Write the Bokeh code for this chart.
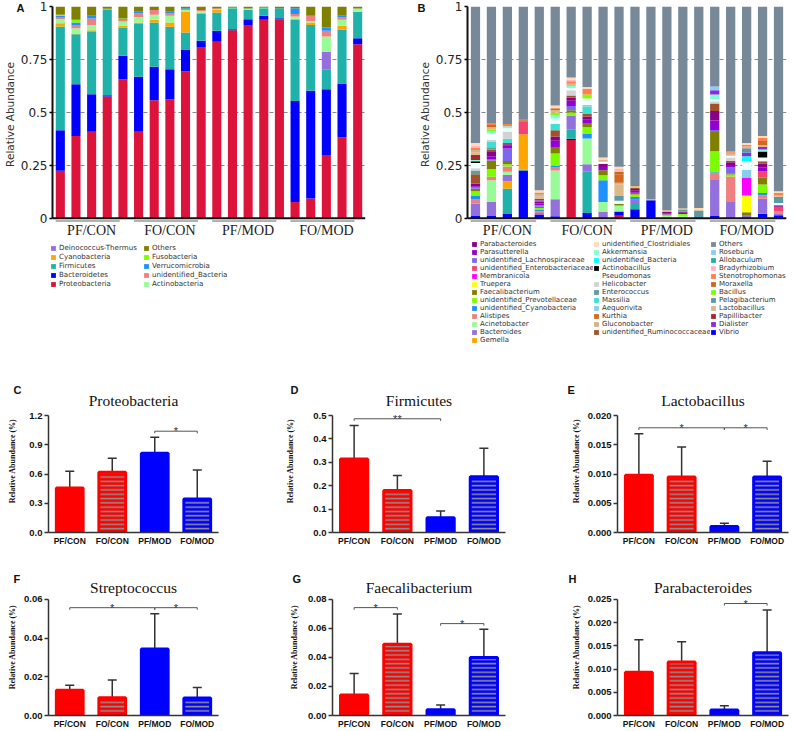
from bokeh.plotting import figure
from bokeh.models import (FactorRange, ColumnDataSource, Legend, LegendItem, Label, Span,
                          FixedTicker, NumeralTickFormatter, Whisker, TeeHead, Range1d, Spacer)
from bokeh.layouts import column, row
from bokeh.core.properties import value
from bokeh.embed import file_html
from bokeh.resources import INLINE

GROUPS = ["PF/CON", "FO/CON", "PF/MOD", "FO/MOD"]
REPLICATES = ["1", "2", "3", "4", "5"]
SAMPLES = [(g, r) for g in GROUPS for r in REPLICATES]

# ---------------- Panel A: phylum level (20 samples) ----------------
proteobacteria = [.224, .389, .408, .575, .655, .409, .557, .561, .693, .809,
                  .833, .888, .913, .937, .94, .077, .093, .299, .381, .822]
bacteroidetes = [.192, .244, .178, .006, .112, .259, .158, .143, .101, .029,
                 .052, .005, .027, .019, .005, .477, .509, .31, .255, .028]
firmicutes = [.49, .236, .294, .406, .134, .249, .209, .2, .083, .129,
              .087, .099, .044, .036, .047, .383, .311, .095, .254, .125]
cyanobacteria = [.015, .004, .008, 0, .008, .007, .013, .02, .099, .003,
                 .011, 0, 0, 0, 0, .005, .011, 0, .019, 0]
deinococcus = [0, 0, 0, 0, 0, 0, 0, 0, 0, 0, 0, 0, 0, 0, 0, 0, 0, .082, 0, 0]
actinobacteria = [.02, .024, .024, .002, .02, .027, .024, .032, .008, .009,
                  .005, .002, .006, .002, 0, .011, .008, .072, .028, .015]
unid_bacteria_p = [.01, .016, .031, 0, .008, .016, .022, .011, .004, .004,
                   .002, 0, 0, 0, 0, .011, .024, .027, .011, 0]
verrucomicrobia = [.005, .011, .013, 0, .004, .008, 0, .008, .004, 0,
                   0, 0, 0, 0, 0, .028, 0, .016, .008, 0]
fusobacteria = [.005, .013, 0, 0, .002, 0, 0, 0, 0, 0, 0, 0, 0, 0, 0, 0, 0, 0, 0, 0]
others_p = [.039, .063, .044, .011, .057, .025, .017, .025, .008, .017,
            .01, .006, .01, .006, .008, .008, .044, .099, .044, .01]

PHYLA = [  # bottom -> top
    ("Proteobacteria", proteobacteria, "#DC143C"),
    ("Bacteroidetes", bacteroidetes, "#0000FF"),
    ("Firmicutes", firmicutes, "#20B2AA"),
    ("Cyanobacteria", cyanobacteria, "#FFA500"),
    ("Deinococcus-Thermus", deinococcus, "#9370DB"),
    ("Actinobacteria", actinobacteria, "#98FB98"),
    ("unidentified_Bacteria", unid_bacteria_p, "#F08080"),
    ("Verrucomicrobia", verrucomicrobia, "#1E90FF"),
    ("Fusobacteria", fusobacteria, "#7CFC00"),
    ("Others", others_p, "#808000"),
]
LEGEND_A_COLS = [
    ["Deinococcus-Thermus", "Cyanobacteria", "Firmicutes", "Bacteroidetes", "Proteobacteria"],
    ["Others", "Fusobacteria", "Verrucomicrobia", "unidentified_Bacteria", "Actinobacteria"],
]

# ---------------- Panel B: genus level (20 samples) ----------------
low_red = [0, 0, 0, 0, 0, 0, .37, 0, 0, .012, 0, 0, 0, 0, .005, 0, 0, 0, .006, .006]
vibrio = [.011, .011, .02, .225, .015, .01, .005, .025, 0, .02, .042, .085, 0, 0, 0, .011, 0, 0, .015, .008]
allobaculum = [0, 0, .12, .005, 0, 0, .045, .195, 0, 0, .03, 0, 0, 0, 0, 0, 0, 0, 0, 0]
gemella = [0, 0, .035, .167, 0, 0, 0, 0, 0, 0, 0, 0, 0, 0, 0, 0, 0, 0, 0, 0]
bacteroides = [.058, .066, .03, 0, .01, .08, .065, .035, .03, 0, .015, 0, 0, 0, 0, .17, .077, .012, .072, .01]
acinetobacter = [0, .103, .015, 0, 0, .135, 0, .122, .047, .028, 0, 0, .01, .012, 0, 0, 0, 0, 0, 0]
alistipes = [.02, .016, .025, 0, .008, .015, 0, 0, 0, 0, 0, 0, 0, 0, 0, .03, .12, 0, .016, .008]
unid_cyanobacteria = [.016, 0, 0, 0, .008, .008, 0, .023, .103, 0, .013, 0, 0, 0, 0, .006, 0, 0, .01, 0]
unid_prevotellaceae = [.022, .037, .01, 0, .008, .058, .015, .03, .023, 0, .012, 0, .008, .008, 0, .1, .01, 0, .04, 0]
faecalibacterium = [.012, .04, .015, 0, .005, .03, .01, .02, .024, .008, .008, 0, 0, 0, 0, .09, .005, .016, .032, 0]
truepera = [0, 0, 0, 0, 0, 0, 0, 0, 0, 0, 0, 0, 0, 0, 0, 0, 0, .08, 0, 0]
membranicola = [0, 0, 0, 0, 0, 0, 0, 0, 0, 0, 0, 0, 0, 0, 0, 0, 0, .085, 0, 0]
unid_enterobacteriaceae = [0, 0, 0, .06, 0, 0, 0, 0, 0, 0, 0, 0, 0, 0, 0, 0, 0, 0, .03, .022]
unid_lachnospiraceae = [.006, .005, .06, 0, .008, 0, .02, 0, 0, 0, 0, 0, 0, 0, 0, .01, .028, 0, 0, 0]
parasutterella = [.006, .015, .012, 0, .008, .03, .025, .015, .015, 0, .01, 0, .006, .006, 0, .045, .012, 0, .02, 0]
parabacteroides = [.012, .02, .008, 0, .008, .02, .015, .015, .015, 0, .008, 0, .006, .005, 0, .045, .012, 0, .016, .008]
unid_ruminococcaceae = [.045, .012, .005, .005, .006, .03, .01, .012, 0, 0, .006, 0, 0, 0, 0, .035, .008, 0, .012, 0]
enterococcus = [.018, .01, 0, 0, 0, 0, 0, 0, 0, 0, 0, 0, 0, .008, 0, 0, 0, 0, 0, 0]
massilia = [0, .025, .02, 0, 0, .03, 0, .035, 0, 0, 0, 0, 0, 0, 0, 0, 0, 0, 0, 0]
helicobacter = [.01, .01, .035, 0, 0, 0, .025, 0, 0, 0, 0, 0, 0, 0, 0, .01, .015, 0, 0, 0]
aequorivita = [0, 0, 0, 0, 0, 0, 0, .008, 0, 0, 0, 0, 0, 0, 0, 0, 0, .035, 0, 0]
pseudomonas = [.025, .03, .015, 0, 0, .025, .01, .03, .01, .015, 0, 0, 0, 0, 0, .01, .008, .04, .018, .01]
unid_bacteria_g = [0, 0, 0, 0, 0, 0, 0, 0, 0, 0, 0, 0, 0, 0, 0, 0, 0, .025, 0, 0]
actinobacillus = [.008, 0, 0, 0, 0, 0, 0, 0, 0, 0, 0, 0, 0, 0, 0, 0, 0, 0, .028, 0]
akkermansia = [.006, .01, .01, 0, 0, .015, .01, 0, 0, 0, 0, 0, 0, 0, 0, .022, 0, 0, .01, 0]
papillibacter = [.025, 0, 0, 0, 0, 0, 0, 0, 0, 0, 0, 0, 0, 0, 0, 0, 0, 0, 0, 0]
dialister = [0, 0, 0, 0, .008, 0, 0, 0, 0, 0, 0, 0, 0, 0, 0, .02, 0, .018, .012, 0]
pelagibacterium = [0, 0, 0, 0, 0, 0, 0, 0, 0, .025, 0, 0, 0, 0, .03, 0, 0, .02, 0, .03]
bacillus = [0, .01, 0, 0, 0, .012, 0, .02, 0, 0, 0, 0, 0, 0, 0, 0, 0, 0, 0, 0]
lactobacillus = [.012, .01, 0, 0, .012, .012, .01, 0, .01, .05, .008, .005, .008, .008, .006, 0, .008, .008, .008, .006]
gluconobacter = [.01, 0, 0, 0, .01, 0, 0, 0, 0, .01, 0, 0, 0, 0, 0, 0, .006, 0, 0, 0]
kurthia = [0, .01, 0, .005, 0, .01, 0, 0, 0, .04, 0, 0, 0, 0, 0, 0, 0, 0, .02, 0]
moraxella = [0, 0, 0, 0, 0, 0, 0, 0, 0, .01, 0, 0, 0, 0, 0, 0, 0, 0, 0, 0]
stenotrophomonas = [.01, .01, .01, 0, .008, 0, .012, .025, 0, 0, 0, 0, 0, 0, 0, 0, .006, .008, .015, .012]
bradyrhizobium = [.01, 0, 0, 0, 0, 0, .008, 0, 0, .015, 0, 0, 0, 0, 0, 0, 0, 0, 0, 0]
roseburia = [0, 0, 0, 0, 0, 0, 0, 0, 0, 0, 0, 0, 0, 0, 0, .018, 0, 0, 0, 0]
unid_clostridiales = [.013, 0, 0, 0, .01, .012, .01, .01, .01, .01, 0, 0, 0, 0, .008, 0, 0, .008, .008, .008]
others_g = [.645, .55, .555, .533, .868, .468, .335, .38, .713, .757,
            .848, .91, .962, .953, .951, .378, .685, .645, .612, .872]

GENERA = [  # bottom -> top
    ("low_red", low_red, "#DC143C"),
    ("Vibrio", vibrio, "#0000FF"),
    ("Allobaculum", allobaculum, "#20B2AA"),
    ("Gemella", gemella, "#FFA500"),
    ("Bacteroides", bacteroides, "#9370DB"),
    ("Acinetobacter", acinetobacter, "#98FB98"),
    ("Alistipes", alistipes, "#F08080"),
    ("unidentified_Cyanobacteria", unid_cyanobacteria, "#1E90FF"),
    ("unidentified_Prevotellaceae", unid_prevotellaceae, "#7CFC00"),
    ("Faecalibacterium", faecalibacterium, "#808000"),
    ("Truepera", truepera, "#FFFF00"),
    ("Membranicola", membranicola, "#FF00FF"),
    ("unidentified_Enterobacteriaceae", unid_enterobacteriaceae, "#F5436F"),
    ("unidentified_Lachnospiraceae", unid_lachnospiraceae, "#7B68EE"),
    ("Parasutterella", parasutterella, "#9400D3"),
    ("Parabacteroides", parabacteroides, "#8B008B"),
    ("unidentified_Ruminococcaceae", unid_ruminococcaceae, "#A0522D"),
    ("Enterococcus", enterococcus, "#5F9EA0"),
    ("Massilia", massilia, "#40E0D0"),
    ("Helicobacter", helicobacter, "#D3D3D3"),
    ("Aequorivita", aequorivita, "#87CEEB"),
    ("Pseudomonas", pseudomonas, "#F0FFFF"),
    ("unidentified_Bacteria", unid_bacteria_g, "#00FFFF"),
    ("Actinobacillus", actinobacillus, "#000000"),
    ("Akkermansia", akkermansia, "#7FFFD4"),
    ("Papillibacter", papillibacter, "#A52A2A"),
    ("Dialister", dialister, "#8A2BE2"),
    ("Pelagibacterium", pelagibacterium, "#5A9AA0"),
    ("Bacillus", bacillus, "#7FFF00"),
    ("Lactobacillus", lactobacillus, "#DEB887"),
    ("Gluconobacter", gluconobacter, "#D2B48C"),
    ("Kurthia", kurthia, "#D2691E"),
    ("Moraxella", moraxella, "#CD661D"),
    ("Stenotrophomonas", stenotrophomonas, "#FF7F50"),
    ("Bradyrhizobium", bradyrhizobium, "#FFB6C1"),
    ("Roseburia", roseburia, "#87CEFA"),
    ("unidentified_Clostridiales", unid_clostridiales, "#FFDAB9"),
    ("Others", others_g, "#778899"),
]
LEGEND_B_COLS = [
    ["Parabacteroides", "Parasutterella", "unidentified_Lachnospiraceae",
     "unidentified_Enterobacteriaceae", "Membranicola", "Truepera", "Faecalibacterium",
     "unidentified_Prevotellaceae", "unidentified_Cyanobacteria", "Alistipes",
     "Acinetobacter", "Bacteroides", "Gemella"],
    ["unidentified_Clostridiales", "Akkermansia", "unidentified_Bacteria", "Actinobacillus",
     "Pseudomonas", "Helicobacter", "Enterococcus", "Massilia", "Aequorivita", "Kurthia",
     "Gluconobacter", "unidentified_Ruminococcaceae"],
    ["Others", "Roseburia", "Allobaculum", "Bradyrhizobium", "Stenotrophomonas",
     "Moraxella", "Bacillus", "Pelagibacterium", "Lactobacillus", "Papillibacter",
     "Dialister", "Vibrio"],
]
STACK_TICKS = [0, 0.25, 0.5, 0.75, 1]

# ---------------- Panels C-H: group means and error-bar tops ----------------
proteo_mean = [0.456, 0.617, 0.813, 0.343]
proteo_err = [0.627, 0.761, 0.977, 0.641]
firmi_mean = [0.314, 0.179, 0.063, 0.238]
firmi_err = [0.457, 0.244, 0.092, 0.36]
lacto_mean = [0.0098, 0.0095, 0.00103, 0.0095]
lacto_err = [0.0169, 0.0146, 0.0016, 0.0122]
strep_mean = [0.013, 0.0092, 0.0344, 0.0091]
strep_err = [0.0156, 0.0183, 0.0525, 0.0144]
faecal_mean = [0.0142, 0.049, 0.0039, 0.0399]
faecal_err = [0.0289, 0.0699, 0.0073, 0.0594]
parab_mean = [0.0093, 0.0115, 0.0012, 0.0135]
parab_err = [0.0163, 0.0159, 0.0021, 0.0227]

BAR_FILL = ["#FF0000", "#FF0000", "#0000FF", "#0000FF"]
BAR_HATCH = [" ", "horizontal_line", " ", "horizontal_line"]


def stack_panel(letter, series, width, height, bl, br, letter_off):
    p = figure(width=width, height=height,
               x_range=FactorRange(factors=SAMPLES, range_padding=0, group_padding=0),
               y_range=Range1d(-0.02, 1.0), output_backend="svg", toolbar_location=None,
               min_border_left=bl, min_border_right=br, min_border_top=6,
               min_border_bottom=height - 6 - 216)
    data = {"x": SAMPLES}
    for name, vals, _ in series:
        data[name] = vals
    src = ColumnDataSource(data)
    p.vbar_stack([s[0] for s in series], x="x", width=0.58, source=src,
                 color=[s[2] for s in series], line_color=None)
    p.outline_line_color = None
    p.xgrid.visible = False
    p.ygrid.ticker = FixedTicker(ticks=STACK_TICKS)
    p.ygrid.grid_line_color = "#8a8a8a"
    p.ygrid.grid_line_dash = "4 3"
    p.ygrid.grid_line_width = 1
    ya = p.yaxis[0]
    ya.ticker = FixedTicker(ticks=STACK_TICKS, minor_ticks=[])
    ya.formatter = NumeralTickFormatter(format="0.[00]")
    ya.bounds = (0, 1)
    ya.axis_line_width = 2
    ya.axis_line_color = "#111111"
    ya.major_tick_out = 3
    ya.major_tick_in = 0
    ya.major_tick_line_width = 1.5
    ya.major_label_standoff = 2
    ya.major_label_text_font = "DejaVu Sans"
    ya.major_label_text_font_size = "12px"
    ya.major_label_text_color = "#222222"
    ya.axis_label = "Relative Abundance"
    ya.axis_label_text_font = "DejaVu Sans"
    ya.axis_label_text_font_size = "10.5px"
    ya.axis_label_text_font_style = "normal"
    ya.axis_label_text_color = "#333333"
    ya.axis_label_standoff = 2
    xa = p.xaxis[0]
    xa.axis_line_alpha = 0
    xa.major_tick_out = 0
    xa.major_tick_in = 0
    xa.minor_tick_out = 0
    xa.major_label_text_font_size = "1px"
    xa.major_label_text_alpha = 0
    xa.major_label_standoff = 0
    xa.group_text_font = "Liberation Serif"
    xa.group_text_font_size = "14px"
    xa.group_text_font_style = "normal"
    xa.group_text_color = "#222222"
    xa.separator_line_alpha = 0
    p.add_layout(Span(location=0, dimension="width", line_color="#111111", line_width=2))
    p.segment(x0=[(g, REPLICATES[0], -0.3) for g in GROUPS], y0=[-0.013] * 4,
              x1=[(g, REPLICATES[-1], -0.2) for g in GROUPS], y1=[-0.013] * 4,
              line_color="#666666", line_width=1.2)
    p.title.text = letter
    p.title.align = "left"
    p.title.offset = letter_off
    p.title.standoff = -14
    p.title.text_font = "Liberation Sans"
    p.title.text_font_size = "11px"
    p.title.text_font_style = "bold"
    p.title.text_color = "#111111"
    return p


def legend_column(width, height, series, names, font_size, row_h):
    lf = figure(width=width, height=height, x_axis_type=None, y_axis_type=None,
                x_range=Range1d(0, 1), y_range=Range1d(0, 1), output_backend="svg",
                toolbar_location=None, min_border=0)
    lf.outline_line_color = None
    colors = {n: c for n, _, c in series}
    items = []
    for n in names:
        # swatch-only renderer, its single bar lies outside the visible ranges
        r = lf.vbar(x=[10], top=[10], width=0.5, fill_color=colors[n], line_color=None)
        items.append(LegendItem(label=n, renderers=[r]))
    lf.add_layout(Legend(items=items, location="top_left", orientation="vertical",
                         border_line_alpha=0, background_fill_alpha=0, padding=0,
                         margin=0, spacing=0, glyph_height=6, glyph_width=6,
                         label_height=int(row_h), label_standoff=3,
                         label_text_font="DejaVu Sans", label_text_font_size=font_size,
                         label_text_color="#333333"))
    return lf


LEG_H = 135
pA = stack_panel("A", PHYLA, 400, 240, 46, 35, -36)
pB = stack_panel("B", GENERA, 395, 240, 67, 9, -50)
legA = row(Spacer(width=50, height=LEG_H),
           column(Spacer(width=93, height=3),
                  legend_column(93, LEG_H - 3, PHYLA, LEGEND_A_COLS[0], "7.1px", 8)),
           column(Spacer(width=257, height=3),
                  legend_column(257, LEG_H - 3, PHYLA, LEGEND_A_COLS[1], "7.1px", 8)))
legB = row(Spacer(width=71, height=LEG_H),
           legend_column(122, LEG_H, GENERA, LEGEND_B_COLS[0], "7px", 8),
           legend_column(117, LEG_H, GENERA, LEGEND_B_COLS[1], "7px", 8),
           legend_column(85, LEG_H, GENERA, LEGEND_B_COLS[2], "7px", 8))


def bar_panel(letter, name, means, errs, ticks, fmt, brackets, width, height,
              bl, br, bt, bb, ext, name_rise, y_title_standoff, letter_off):
    frame_h = height - bt - bb
    frame_w = width - bl - br
    top = ticks[-1]
    p = figure(width=width, height=height, x_range=FactorRange(factors=GROUPS, range_padding=0),
               y_range=Range1d(0, top * frame_h / (frame_h - ext)), output_backend="svg",
               toolbar_location=None, min_border_left=bl, min_border_right=br,
               min_border_top=bt, min_border_bottom=bb)
    src = ColumnDataSource(dict(g=GROUPS, m=means, e=errs, c=BAR_FILL, h=BAR_HATCH))
    p.vbar(x="g", top="m", width=0.63, source=src, fill_color="c", line_color="c",
           line_width=3, hatch_pattern="h", hatch_color="#8c8c8c", hatch_weight=1.6,
           hatch_scale=4.3)
    p.add_layout(Whisker(source=src, base="g", lower="m", upper="e", line_color="#333333",
                         line_width=1.5, lower_head=None,
                         upper_head=TeeHead(size=9, line_color="#333333", line_width=1.5)))
    tick = top * 0.018
    for g1, g2, yb, star in brackets:
        p.line(x=[g1, g1, g2, g2], y=[yb - tick, yb, yb, yb - tick],
               line_color="#555555", line_width=1)
        mid = (GROUPS.index(g2) - GROUPS.index(g1)) / 2
        p.text(x=[(g1, mid)], y=[yb], text=[star], text_font=value("Liberation Sans"),
               text_font_size="11px", text_align="center", text_baseline="middle",
               text_color="#333333")
    p.outline_line_color = None
    p.grid.visible = False
    p.add_layout(Label(x=frame_w / 2, y=frame_h - ext + name_rise, x_units="screen",
                       y_units="screen", text=name, text_align="center",
                       text_baseline="alphabetic", text_font="Liberation Serif",
                       text_font_size="15.5px", text_color="#111111"))
    p.title.text = letter
    p.title.align = "left"
    p.title.offset = letter_off
    p.title.standoff = -13
    p.title.text_font = "Liberation Sans"
    p.title.text_font_size = "11px"
    p.title.text_font_style = "bold"
    p.title.text_color = "#111111"
    xa = p.xaxis[0]
    xa.axis_line_width = 1.5
    xa.axis_line_color = "#333333"
    xa.major_tick_out = 0
    xa.major_tick_in = 0
    xa.major_label_standoff = 3
    xa.major_label_text_font = "Liberation Sans"
    xa.major_label_text_font_size = "8.5px"
    xa.major_label_text_font_style = "bold"
    xa.major_label_text_color = "#111111"
    ya = p.yaxis[0]
    ya.ticker = FixedTicker(ticks=ticks, minor_ticks=[])
    ya.formatter = NumeralTickFormatter(format=fmt)
    ya.bounds = (0, top)
    ya.axis_line_width = 1.5
    ya.axis_line_color = "#333333"
    ya.major_tick_out = 4
    ya.major_tick_in = 0
    ya.major_tick_line_width = 1.5
    ya.major_tick_line_color = "#333333"
    ya.major_label_standoff = 2
    ya.major_label_text_font = "Liberation Sans"
    ya.major_label_text_font_size = "9.5px"
    ya.major_label_text_font_style = "bold"
    ya.major_label_text_color = "#111111"
    ya.axis_label = "Relative Abundance (%)"
    ya.axis_label_text_font = "Liberation Serif"
    ya.axis_label_text_font_size = "8px"
    ya.axis_label_text_font_style = "bold"
    ya.axis_label_text_color = "#111111"
    ya.axis_label_standoff = y_title_standoff
    return p


pC = bar_panel("C", "Proteobacteria", proteo_mean, proteo_err, [0, 0.3, 0.6, 0.9, 1.2], "0.0",
               [("PF/MOD", "FO/MOD", 1.039, "*")], 265, 178, 48, 47, 14, 21, 26, 15, 9, -35)
pD = bar_panel("D", "Firmicutes", firmi_mean, firmi_err, [0, 0.1, 0.2, 0.3, 0.4, 0.5], "0.0",
               [("PF/CON", "PF/MOD", 0.486, "**")], 265, 178, 67, 25, 14, 21, 26, 15, 15, -42)
pE = bar_panel("E", "Lactobacillus", lacto_mean, lacto_err, [0, 0.005, 0.01, 0.015, 0.02], "0.000",
               [("PF/CON", "PF/MOD", 0.0179, "*"), ("PF/MOD", "FO/MOD", 0.0179, "*")],
               265, 178, 87, 7, 14, 21, 26, 15, 4, -50)
pF = bar_panel("F", "Streptococcus", strep_mean, strep_err, [0, 0.02, 0.04, 0.06], "0.00",
               [("PF/CON", "PF/MOD", 0.0557, "*"), ("PF/MOD", "FO/MOD", 0.0557, "*")],
               265, 178, 48, 47, 25, 15, 21, 11, 4, -35)
pG = bar_panel("G", "Faecalibacterium", faecal_mean, faecal_err, [0, 0.02, 0.04, 0.06, 0.08], "0.00",
               [("PF/CON", "FO/CON", 0.0743, "*"), ("PF/MOD", "FO/MOD", 0.0633, "*")],
               265, 178, 67, 25, 25, 15, 21, 11, 6, -40)
pH = bar_panel("H", "Parabacteroides", parab_mean, parab_err,
               [0, 0.005, 0.01, 0.015, 0.02, 0.025], "0.000",
               [("PF/MOD", "FO/MOD", 0.0241, "*")], 265, 178, 87, 7, 25, 15, 21, 11, 4, -49)

layout = column(row(column(pA, legA), column(pB, legB)),
                row(pC, pD, pE), row(pF, pG, pH))
open("out.html", "w").write(file_html(layout, INLINE))
